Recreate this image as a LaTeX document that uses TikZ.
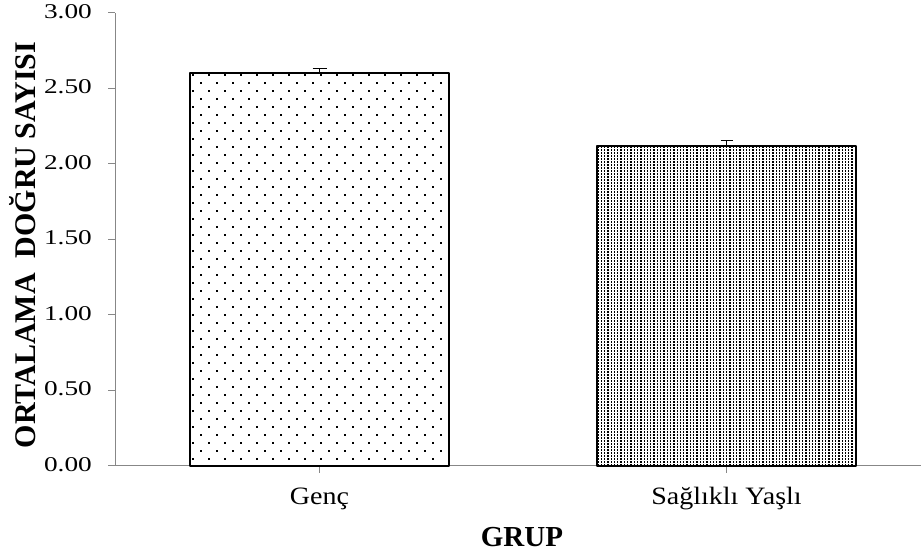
\documentclass[tikz,border=0pt]{standalone}
\usepackage{fontspec}
\setmainfont[FakeStretch=1.12]{Liberation Serif}
\newfontfamily\numfont[FakeStretch=1.3]{Liberation Serif}
\newfontfamily\titlefont{Liberation Serif}
\usetikzlibrary{patterns}
% bar fills
\pgfdeclarepatternformonly{sparsedots}{\pgfqpoint{-1pt}{-1pt}}{\pgfqpoint{17pt}{17pt}}{\pgfqpoint{16pt}{16pt}}{%
  \pgfpathrectangle{\pgfqpoint{0pt}{0pt}}{\pgfqpoint{1.9pt}{1.9pt}}%
  \pgfpathrectangle{\pgfqpoint{8pt}{8pt}}{\pgfqpoint{1.9pt}{1.9pt}}%
  \pgfusepath{fill}}
\pgfdeclarepatternformonly{densedots}{\pgfqpoint{-0.5pt}{-0.5pt}}{\pgfqpoint{3.8pt}{3.5pt}}{\pgfqpoint{3.3pt}{3pt}}{%
  \pgfpathrectangle{\pgfqpoint{0pt}{0pt}}{\pgfqpoint{1.3pt}{1.5pt}}%
  \pgfusepath{fill}}
\tikzset{
  axisline/.style={draw=black!47,line width=1pt},
  barframe/.style={draw=black,line width=2pt},
  errbar/.style={draw=black,line width=1.2pt},
  ticklab/.style={font=\fontsize{21}{23}\selectfont\numfont,anchor=east,inner sep=0pt},
  catlab/.style={anchor=base,inner sep=0pt},
  titlelab/.style={font=\fontsize{29}{31}\selectfont\titlefont\bfseries,inner sep=0pt}
}
\begin{document}
\begin{tikzpicture}[x=1pt,y=1pt,line join=round,font=\fontsize{25}{27}\selectfont]
    \useasboundingbox (0,0) rectangle (921,556);
    \begin{scope}[shift={(0,90)},y=151pt]
        \draw[axisline] (115,0)--(115,3);
        \draw[axisline] (108,0)--(921,0);
        \foreach \v/\t [count=\k] in {0/0.00,0.5/0.50,1/1.00,1.5/1.50,2/2.00,2.5/2.50,3/3.00}{
            \draw[axisline] (108,\v)--(115,\v);
            \node[ticklab] (ytick\k) at (92,\v) [yshift=1.5pt] {\t};
        }
        \draw[axisline] (319.5,0)--++(0,-7pt) (726.5,0)--++(0,-7pt);
        % bars
        \fill[pattern=sparsedots] (190,0) rectangle (449,2.60);
        \draw[barframe] (190,0) rectangle (449,2.60);
        \fill[pattern=densedots] (597,0) rectangle (856,2.12);
        \draw[barframe] (597,0) rectangle (856,2.12);
        % error bars
        \draw[errbar] (319.5,2.60)--(319.5,2.63) ++(-7pt,0)--++(14pt,0);
        \draw[errbar] (726.5,2.12)--(726.5,2.155) ++(-6pt,0)--++(12pt,0);
    \end{scope}
    \node[catlab] (genc) at (319.5,51) {Genç};
    \node[catlab] (yasli) at (726.5,51) {Sağlıklı Yaşlı};
    \node[titlelab,anchor=base] (grup) at (522,9) {GRUP};
    \node[titlelab,rotate=90,font=\fontsize{30}{32}\selectfont\titlefont\bfseries] (ortalama) at (23,311) {ORTALAMA\ \ DOĞRU SAYISI};
\end{tikzpicture}
\end{document}
